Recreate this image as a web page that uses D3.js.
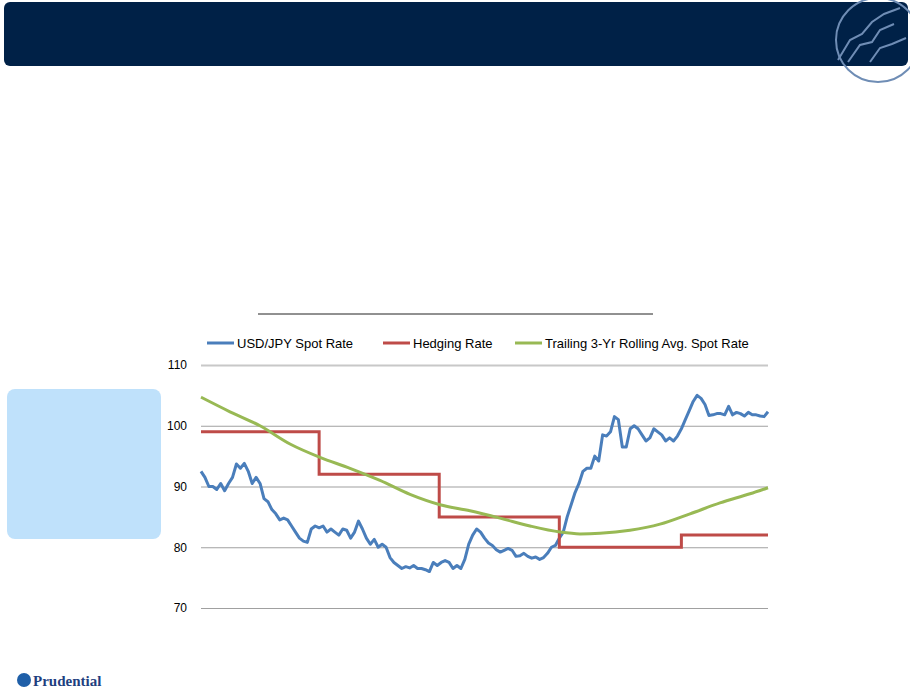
<!DOCTYPE html><html><head><meta charset="utf-8"><script src="https://cdn.jsdelivr.net/npm/d3@7"></script>
<style>body{margin:0;background:#fff}svg{display:block}</style></head><body><svg id="c" width="910" height="693"></svg><script>
const yTicks=[70,80,90,100,110];
const seriesNames=["USD/JPY Spot Rate","Hedging Rate","Trailing 3-Yr Rolling Avg. Spot Rate"];
const spot=[92.5,91.5,90,90,89.5,90.5,89.3,90.5,91.5,93.7,93.0,93.8,92.5,90.5,91.5,90.5,88,87.5,86.2,85.5,84.5,84.8,84.5,83.5,82.5,81.5,81.0,80.8,83,83.5,83.2,83.5,82.5,83.0,82.5,82.0,83,82.8,81.5,82.5,84.3,83,81.5,80.5,81.3,80.0,80.5,80.0,78.3,77.5,77.0,76.5,76.8,76.6,77.0,76.5,76.5,76.3,76.0,77.5,77.0,77.5,77.8,77.5,76.5,77.0,76.5,78,80.5,82,83,82.5,81.5,80.7,80.3,79.6,79.2,79.5,79.8,79.5,78.5,78.6,79.0,78.5,78.2,78.4,78.0,78.3,79.0,80.0,80.3,81.5,82.5,85,87,89,90.5,92.5,93,93,95,94.2,98.5,98.3,99.0,101.5,101,96.5,96.5,99.5,100.0,99.5,98.5,97.5,98.0,99.5,99,98.5,97.5,98,97.5,98.3,99.5,101,102.5,104.0,105,104.5,103.5,101.7,101.8,102,102,101.8,103.2,101.8,102.2,102,101.6,102.2,101.8,101.8,101.6,101.5,102.3];
const hedgeStart=[0,30,60.5,91,122];
const hedgeRate=[99,92,85,80,82];
const avgPos=[0,29,59,89,119,149,179,209,239,269,299,329,359,379,399,429,459,489,519,549,567];
const avgVal=[104.7,102.3,100,97,94.8,93,91,88.7,87,86,84.8,83.5,82.5,82.2,82.3,82.8,83.8,85.5,87.3,88.8,89.8];
const colors=["#4a7ebb","#be4b48","#98b954"];
const svg=d3.select("#c");
// header
svg.append("rect").attr("x",4).attr("y",2).attr("width",904).attr("height",64).attr("rx",6).attr("fill","#002147");
const lg=svg.append("g").attr("fill","none").attr("stroke","#6f8db5").attr("stroke-width",2);
lg.append("circle").attr("cx",878).attr("cy",40).attr("r",42);
lg.append("path").attr("d","M838,60 L850,40 L862,34 L872,22 L884,14 L900,8 M848,62 L860,45 L872,42 L880,30 L894,24 M870,62 L880,48 L892,44 L906,38");
svg.append("rect").attr("x",7).attr("y",389).attr("width",154).attr("height",150).attr("rx",8).attr("fill","#bfe1fb");
svg.append("line").attr("x1",258).attr("x2",653).attr("y1",314).attr("y2",314).attr("stroke","#222").attr("stroke-width",1);
const n=spot.length;
const x=d3.scaleLinear().domain([0,n-1]).range([201,768]);
const xp=d3.scaleLinear().domain([0,567]).range([201,768]);
const y=d3.scaleLinear().domain([70,110]).range([608,365]);
const ax=svg.append("g").attr("transform","translate(201,0)").call(d3.axisLeft(y).tickValues(yTicks).tickSize(-567).tickPadding(14));
ax.select(".domain").remove();
ax.selectAll(".tick line").attr("stroke","#a0a0a0").attr("stroke-width",1.2);
ax.selectAll(".tick line").filter(d=>d===110).attr("stroke","#c8c8c8").attr("stroke-width",2);
ax.selectAll("text").attr("font-family","Arial, Liberation Sans").attr("font-size",12).attr("fill","#000");
const line=d3.line();
svg.append("path").attr("d",line(spot.map((v,i)=>[x(i),y(v)]))).attr("fill","none").attr("stroke",colors[0]).attr("stroke-width",3).attr("stroke-linejoin","round");
const hp=[];hedgeStart.forEach((s,i)=>{hp.push([x(s),y(hedgeRate[i])]);hp.push([x(i<hedgeStart.length-1?hedgeStart[i+1]:n-1),y(hedgeRate[i])]);});
svg.append("path").attr("d",line(hp)).attr("fill","none").attr("stroke",colors[1]).attr("stroke-width",3);
svg.append("path").attr("d",line.curve(d3.curveMonotoneX)(avgPos.map((p,i)=>[xp(p),y(avgVal[i])]))).attr("fill","none").attr("stroke",colors[2]).attr("stroke-width",3);
// legend
const legX=[207,383,515];
seriesNames.forEach((s,i)=>{const g=svg.append("g").attr("transform",`translate(${legX[i]},343)`);
g.append("line").attr("x1",0).attr("x2",27).attr("stroke",colors[i]).attr("stroke-width",3);
g.append("text").attr("x",30).attr("y",4.5).text(s).attr("font-family","Arial, Liberation Sans").attr("font-size",13).attr("fill","#000");});
// bottom logo
svg.append("circle").attr("cx",24).attr("cy",680).attr("r",7).attr("fill","#1f5fa8");
svg.append("text").attr("x",33).attr("y",686).text("Prudential").attr("font-family","Liberation Serif, serif").attr("font-weight","bold").attr("font-size",15).attr("fill","#1f3f7f");
</script></body></html>
